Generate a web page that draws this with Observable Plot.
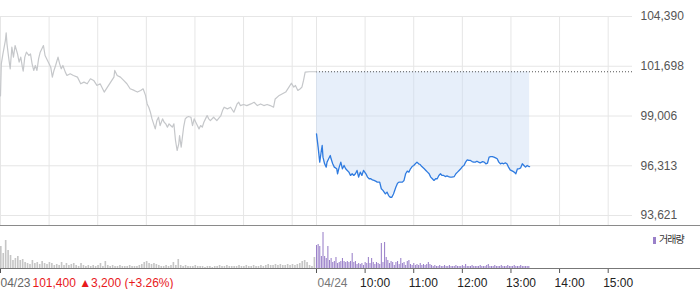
<!DOCTYPE html>
<html><head><meta charset="utf-8">
<script src="https://cdn.jsdelivr.net/npm/d3@7"></script>
<script src="https://cdn.jsdelivr.net/npm/@observablehq/plot@0.6"></script>
<style>
body{margin:0;background:#fff;}
#wrap{position:relative;width:700px;height:289px;font-family:"Liberation Sans",Arial,"Noto Sans CJK KR",sans-serif;overflow:hidden;}
#price{position:absolute;left:0;top:0;}
#vol{position:absolute;left:0;top:225px;}
.sep{position:absolute;left:0;width:700px;height:1px;}
#legend{position:absolute;left:653px;top:233px;font-size:10px;color:#333;font-family:"Noto Sans CJK KR",sans-serif;line-height:12px;letter-spacing:-1px;white-space:nowrap;}
#legend i{display:inline-block;width:3px;height:7px;background:#9a80c9;margin-right:3px;vertical-align:-1px;}
</style></head>
<body>
<div id="wrap">
  <div id="price"></div>
  <div id="vol"></div>
  <div class="sep" style="top:225px;background:#8a8a8a"></div>
  <div class="sep" style="top:268px;background:#777"></div>
  <div id="legend"><i></i>거래량</div>
</div>
<script>
// Minutes since 09:00 of each session; previous day 04/23, today 04/24
const prevMinutes = [0,1,3,6,7,8,10,12,14,16,
  18,21,23,25,27,28,30,32,35,37,
  39,41,43,45,47,49,53,55,58,60,
  62,64,66,68,71,73,75,77,80,82,
  86,90,95,99,103,107,111,115,119,123,
  128,132,136,140,141,144,148,152,156,160,
  165,169,173,176,179,181,183,185,187,189,
  191,193,195,197,200,202,204,206,208,210,
  212,214,216,218,220,221,223,224,226,228,
  230,232,235,237,239,241,243,245,247,249,
  251,253,255,257,259,263,267,272,274,276,
  280,284,288,292,294,296,300,304,309,313,
  317,321,325,329,333,337,339,344,348,352,
  356,359,362,364,367,370,372,374,376,381,
  387,390];
const prevPrices = [100100,101830,102370,103090,103510,102910,102190,101560,102730,102190,
  102820,102370,101920,102190,101650,101430,102190,102460,102280,102370,
  101830,101470,101740,101470,102100,102460,102820,102280,102010,101830,
  101650,101110,101470,101740,102190,101830,101560,101740,101380,101200,
  101290,101200,101110,100750,100840,100750,101020,100930,100660,100750,
  100300,100570,100840,101110,101470,101200,101110,100930,100750,100480,
  100390,100300,100390,100480,100120,99660,99480,99210,98850,98580,
  98310,98760,98940,98490,98850,98670,98580,98400,98580,98490,
  98400,98580,97680,97140,97500,97950,97320,97680,98400,98850,
  98940,98980,98940,98490,98850,98670,98490,98310,98490,98400,
  98670,98850,99030,98850,98760,98940,98760,99030,99300,99480,
  99390,99480,99210,99660,99750,99570,99630,99570,99660,99750,
  99570,99660,99570,99630,99570,99480,99930,100120,100210,100300,
  100570,100780,100570,100660,100390,100480,100570,100930,101380,101400,
  101400,101400];

const todayMinutes = [0,2,4,6,7,8,10,12,13,15,
  17,18,20,22,25,26,28,30,32,34,
  36,38,40,42,44,46,48,50,52,54,
  56,58,61,63,65,67,69,71,73,75,
  78,80,82,85,87,89,91,93,95,98,
  100,102,104,106,108,110,112,114,116,118,
  120,122,124,126,128,130,133,135,137,139,
  141,143,145,147,149,151,153,155,157,159,
  161,163,165,167,170,172,174,176,178,180,
  182,184,186,188,190,192,194,196,198,200,
  202,205,207,209,211,213,215,217,219,221,
  223,225,227,229,231,233,235,237,239,242,
  244,246,248,250,252,254,256,258,260,262,
  263];
const todayPrices = [98040,97320,96510,97140,97410,96780,96420,96240,96510,96690,
  96870,96690,96420,96240,96150,95880,96240,96510,96150,96330,
  96150,96060,95970,95790,95880,95790,95880,96060,95700,95970,
  95790,96060,95880,95700,95610,95610,95550,95520,95480,95430,
  95430,95070,94980,94790,94890,94700,94610,94610,94790,95160,
  95370,95430,95430,95430,95520,95880,96020,95970,96150,96270,
  96330,96420,96510,96420,96380,96270,96150,96060,95970,95880,
  95700,95610,95520,95610,95610,95790,95880,95790,95790,95730,
  95770,95730,95700,95700,95730,95880,95970,96060,96150,96270,
  96330,96510,96630,96600,96600,96540,96510,96510,96560,96510,
  96470,96540,96510,96420,96450,96780,96810,96810,96780,96740,
  96690,96510,96420,96450,96420,96470,96420,96240,96090,96020,
  95970,95880,96150,96150,96200,96420,96330,96240,96330,96270,
  96270];

// Volume (thousand shares): previous day every 3 min, today every 2 min
const prevVolume = [22,15,28,18,13,8,10,12,8,9,
  6,5,4,8,5,6,4,7,5,4,
  6,5,3,4,3,6,3,5,3,4,
  5,3,2,5,3,2,3,2,3,2,
  3,5,2,7,3,2,3,2,2,3,
  2,2,2,3,2,2,2,3,4,6,
  7,5,4,5,4,3,2,2,3,2,
  3,6,3,9,3,2,3,2,2,2,
  3,2,2,2,1,2,2,1,2,2,
  3,2,2,3,2,2,2,2,3,2,
  2,3,2,2,3,2,2,3,2,3,
  4,3,3,4,3,4,3,3,4,3,
  4,3,4,5,7,8,6,3,2,11];
const todayVolume = [23,24,22,12,36,12,10,22,8,10,
  6,7,11,5,6,7,10,7,6,7,
  6,7,15,6,7,4,5,4,5,3,
  6,5,11,5,10,6,4,6,5,4,
  25,6,26,11,8,5,7,6,3,6,
  7,4,10,5,6,3,7,8,4,3,
  5,3,4,3,5,3,4,3,4,6,
  4,3,2,3,2,2,3,2,2,3,
  2,2,3,2,2,2,3,2,2,2,
  3,2,4,2,2,2,3,2,2,2,
  2,3,2,2,2,3,4,2,2,2,
  3,2,2,2,3,2,2,2,3,2,
  2,2,3,2,2,2,3,2,2,2,
  2,2];

const prevClose = 101400;
const prevChange = 3200;
const prevChangePct = 3.26;
const yTicks = [104390,101698,99006,96313,93621];
const yDomain = [93081,104390];
const sessionMinutes = 390;
const gridMinutes = [0,60,120,180,240,300,360,390,450,510,570,630,690,750];
const tickMinutes = [0,390,450,510,570,630,690,750];
const tickLabels = ["04/23","04/24","10:00","11:00","12:00","13:00","14:00","15:00"];

const prev = prevMinutes.map((m,i)=>({t:m, p:prevPrices[i]}));
const today = todayMinutes.map((m,i)=>({t:sessionMinutes+m, p:todayPrices[i]}));
const prevVol = prevVolume.map((v,i)=>({t:i*3, v}));
const todayVol = todayVolume.map((v,i)=>({t:sessionMinutes+i*2, v}));
const ticks = tickMinutes.map((t,i)=>({t, label:tickLabels[i]}));

const font = '"Liberation Sans",Arial,"Noto Sans CJK KR",sans-serif';
const xDomain = [0, 2*sessionMinutes];

const price = Plot.plot({
  width:700, height:226, marginTop:16, marginBottom:1, marginLeft:0, marginRight:68,
  style:{fontFamily:font, fontSize:"12px", background:"transparent", overflow:"visible"},
  x:{domain:xDomain, axis:null},
  y:{domain:yDomain, axis:null},
  marks:[
    Plot.ruleX(gridMinutes,{stroke:"#e6e6e6"}),
    Plot.ruleY(yTicks,{stroke:"#e6e6e6"}),
    Plot.areaY(today,{x:"t", y1:()=>prevClose, y2:"p", fill:"#c9dcf5", fillOpacity:0.45}),
    Plot.ruleY([prevClose],{x1:()=>sessionMinutes, x2:()=>2*sessionMinutes, stroke:"#555", strokeDasharray:"1,2"}),
    Plot.line(prev,{x:"t", y:"p", stroke:"#c5c7ca", strokeWidth:1.2}),
    Plot.line(today,{x:"t", y:"p", stroke:"#2f7be0", strokeWidth:1.3}),
    Plot.axisY({anchor:"right", label:null, ticks:yTicks, tickSize:0, tickPadding:8, tickFormat:d3.format(","), color:"#555", fontSize:12})
  ]
});
document.getElementById("price").append(price);

const vol = Plot.plot({
  width:700, height:64, marginTop:0, marginBottom:21, marginLeft:0, marginRight:68,
  style:{fontFamily:font, fontSize:"12px", background:"transparent", overflow:"visible"},
  x:{domain:xDomain, axis:null},
  y:{domain:[0,43], axis:null},
  marks:[
    Plot.rectY(prevVol,{x1:"t", x2:d=>d.t+2, y:"v", fill:"#c6c6c6"}),
    Plot.rectY(todayVol,{x1:"t", x2:d=>d.t+1.3, y:"v", fill:"#9a80c9"}),
    Plot.axisX({ticks:tickMinutes, label:null, tickSize:5, tickFormat:()=>"", stroke:"#555"}),
    Plot.text(ticks.filter(d=>d.t===0),{x:"t", y:()=>0, text:"label", dy:15, textAnchor:"start", fill:"#666", fontSize:12}),
    Plot.text(ticks.filter(d=>d.t===0),{x:"t", y:()=>0, text:()=>`${d3.format(",")(prevClose)} ▲${d3.format(",")(prevChange)} (+${prevChangePct}%)`, dy:15, dx:32, textAnchor:"start", fill:"#e8191c", fontSize:12}),
    Plot.text(ticks.filter(d=>d.t===sessionMinutes),{x:"t", y:()=>0, text:"label", dy:15, dx:1, textAnchor:"start", fill:"#777", fontSize:12}),
    Plot.text(ticks.filter(d=>d.t>sessionMinutes),{x:"t", y:()=>0, text:"label", dy:15, dx:-5, textAnchor:"start", fill:"#222", fontSize:12})
  ]
});
document.getElementById("vol").append(vol);
</script>
</body></html>
